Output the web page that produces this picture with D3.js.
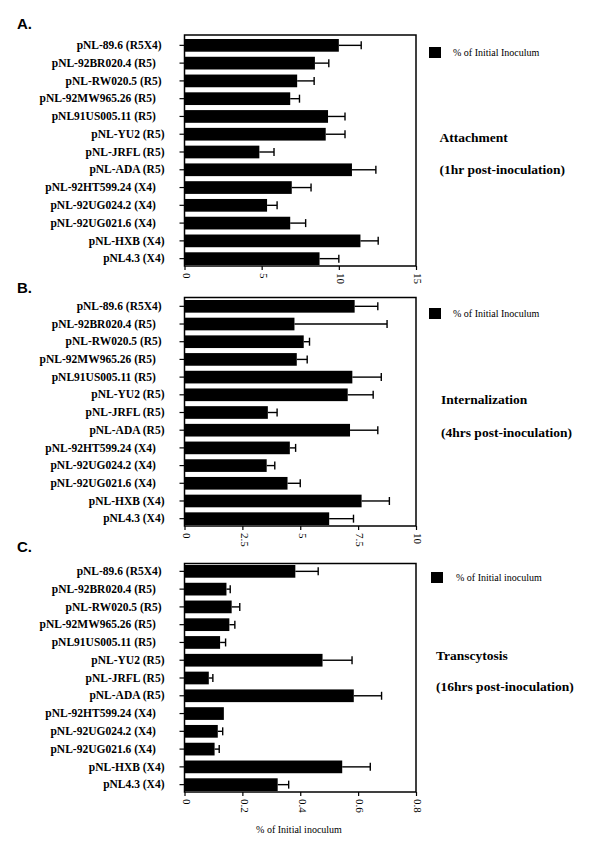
<!DOCTYPE html>
<html><head><meta charset="utf-8">
<script src="https://cdn.jsdelivr.net/npm/d3@7"></script>
<style>
body{margin:0;background:#fff;}
svg text{white-space:pre;}
</style></head><body>
<svg id="chart" width="593" height="845" xml:space="preserve"></svg>
<script>
// ---- data ----
const categories = [
  "pNL-89.6 (R5X4) ", "pNL-92BR020.4 (R5)   ", "pNL-RW020.5 (R5) ", "pNL-92MW965.26 (R5)   ",
  "pNL91US005.11 (R5)   ", "pNL-YU2 (R5)", "pNL-JRFL (R5)", "pNL-ADA (R5)",
  "pNL-92HT599.24 (X4)   ", "pNL-92UG024.2 (X4)   ", "pNL-92UG021.6 (X4)   ", "pNL-HXB (X4)", "pNL4.3 (X4)"
];
const attachmentMean = [10.0, 8.45, 7.3, 6.85, 9.3, 9.15, 4.85, 10.85, 6.95, 5.35, 6.85, 11.4, 8.75];
const attachmentErr  = [1.45, 0.9, 1.1, 0.6, 1.1, 1.25, 0.95, 1.55, 1.25, 0.65, 1.0, 1.15, 1.25];
const internalizationMean = [7.35, 4.75, 5.15, 4.85, 7.25, 7.05, 3.6, 7.15, 4.55, 3.55, 4.45, 7.65, 6.25];
const internalizationErr  = [1.0, 4.0, 0.25, 0.45, 1.25, 1.1, 0.4, 1.2, 0.25, 0.35, 0.55, 1.2, 1.05];
const transcytosisMean = [0.383, 0.145, 0.163, 0.155, 0.123, 0.477, 0.084, 0.585, 0.136, 0.115, 0.104, 0.545, 0.322];
const transcytosisErr  = [0.079, 0.013, 0.028, 0.019, 0.019, 0.102, 0.014, 0.096, 0, 0.017, 0.016, 0.097, 0.038];
const attachmentTicks = [0, 5, 10, 15];
const internalizationTicks = [0, 2.5, 5, 7.5, 10];
const transcytosisTicks = [0, 0.2, 0.4, 0.6, 0.8];
const panelLetters = ["A.", "B.", "C."];
const legendLabels = ["% of Initial Inoculum", "% of Initial Inoculum", "% of Initial inoculum"];
const panelTitles = ["Attachment", "Internalization", "Transcytosis"];
const panelSubtitles = ["(1hr post-inoculation)", "(4hrs post-inoculation)", "(16hrs post-inoculation)"];
const xAxisTitle = "% of Initial inoculum";

// ---- layout ----
const layout = [
  {mean: attachmentMean, err: attachmentErr, ticks: attachmentTicks, max: 15,
   box: [35, 266], band: [39, 265], letterY: 28.5,
   legend: {x: 429, y: 47, tx: 453, ty: 55.5}, title: {x: 439.5, y: 142, sy: 173.5}},
  {mean: internalizationMean, err: internalizationErr, ticks: internalizationTicks, max: 10,
   box: [297.5, 526], band: [300, 525], letterY: 292.5,
   legend: {x: 429, y: 308, tx: 453, ty: 316.5}, title: {x: 441, y: 403.5, sy: 437}},
  {mean: transcytosisMean, err: transcytosisErr, ticks: transcytosisTicks, max: 0.8,
   box: [563.5, 792], band: [565, 791], letterY: 551.5,
   legend: {x: 431, y: 572, tx: 456, ty: 580.5}, title: {x: 436, y: 659.5, sy: 691}}
];
const X0 = 184.5, X1 = 416;
const serif = "'Liberation Serif', 'Times New Roman', serif";

const svg = d3.select("#chart");
svg.append("rect").attr("width", 593).attr("height", 845).attr("fill", "#fff");

layout.forEach((p, k) => {
  const g = svg.append("g");
  const x = d3.scaleLinear().domain([0, p.max]).range([X0, X1]);
  const y = d3.scaleBand().domain(categories).range(p.band).paddingInner(0.285).paddingOuter(0);

  // panel letter
  svg.append("text").attr("x", 17).attr("y", p.letterY).text(panelLetters[k])
    .attr("font-family", "'Liberation Sans', Arial, sans-serif").attr("font-weight", "bold")
    .attr("font-size", 15).attr("fill", "#000");

  // bars
  const rows = categories.map((c, i) => ({c, v: p.mean[i], e: p.err[i]}));
  g.selectAll("rect.bar").data(rows).join("rect").attr("class", "bar")
    .attr("x", x(0)).attr("y", d => y(d.c))
    .attr("width", d => x(d.v) - x(0)).attr("height", y.bandwidth())
    .attr("fill", "#000");

  // error bars
  const eb = g.selectAll("g.err").data(rows.filter(d => d.e > 0)).join("g").attr("class", "err");
  eb.append("line")
    .attr("x1", d => x(d.v)).attr("x2", d => x(d.v + d.e))
    .attr("y1", d => y(d.c) + y.bandwidth() / 2).attr("y2", d => y(d.c) + y.bandwidth() / 2)
    .attr("stroke", "#000").attr("stroke-width", 1.4);
  eb.append("line")
    .attr("x1", d => x(d.v + d.e)).attr("x2", d => x(d.v + d.e))
    .attr("y1", d => y(d.c) + y.bandwidth() / 2 - 4).attr("y2", d => y(d.c) + y.bandwidth() / 2 + 4)
    .attr("stroke", "#000").attr("stroke-width", 1.4);

  // y axis
  const ya = g.append("g").attr("transform", `translate(${X0},0)`)
    .call(d3.axisLeft(y).tickSize(5).tickPadding(15));
  ya.select(".domain").remove();
  ya.selectAll(".tick line").attr("stroke", "#000").attr("stroke-width", 1.2);
  ya.selectAll(".tick text").attr("font-family", serif).attr("font-weight", "bold")
    .attr("font-size", 11.5).attr("fill", "#000");

  // x axis
  const xa = g.append("g").attr("transform", `translate(0,${p.box[1]})`)
    .call(d3.axisBottom(x).tickValues(p.ticks).tickSize(4).tickFormat(d => String(d)));
  xa.select(".domain").remove();
  xa.selectAll(".tick line").attr("stroke", "#000").attr("stroke-width", 1.2);
  xa.selectAll(".tick text")
    .attr("transform", "rotate(90)").attr("x", 7).attr("y", 0).attr("dy", "0.2em")
    .attr("text-anchor", "start")
    .attr("font-family", serif).attr("font-size", 11).attr("fill", "#000");

  // frame
  g.append("rect").attr("x", X0).attr("y", p.box[0])
    .attr("width", X1 - X0).attr("height", p.box[1] - p.box[0])
    .attr("fill", "none").attr("stroke", "#000").attr("stroke-width", 1.5);

  // legend
  g.append("rect").attr("x", p.legend.x).attr("y", p.legend.y).attr("width", 12).attr("height", 11).attr("fill", "#000");
  g.append("text").attr("x", p.legend.tx).attr("y", p.legend.ty).text(legendLabels[k])
    .attr("font-family", serif).attr("font-size", 10).attr("fill", "#000");

  // titles
  g.append("text").attr("x", p.title.x).attr("y", p.title.y).text(panelTitles[k])
    .attr("font-family", serif).attr("font-weight", "bold").attr("font-size", 13.5).attr("fill", "#000");
  g.append("text").attr("x", p.title.x).attr("y", p.title.sy).text(panelSubtitles[k])
    .attr("font-family", serif).attr("font-weight", "bold").attr("font-size", 13.5).attr("fill", "#000");
});

svg.append("text").attr("x", 299).attr("y", 833).attr("text-anchor", "middle").text(xAxisTitle)
  .attr("font-family", serif).attr("font-size", 10).attr("fill", "#000");
</script>
</body></html>
